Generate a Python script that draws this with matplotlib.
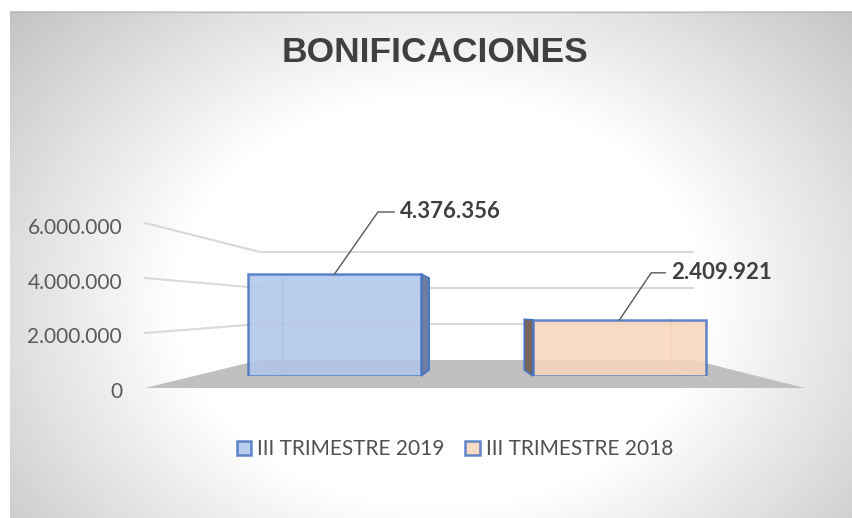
import numpy as np
import matplotlib
matplotlib.use("Agg")
import matplotlib.pyplot as plt
from matplotlib.patches import Polygon

# datos
series = ["III TRIMESTRE 2019", "III TRIMESTRE 2018"]
valores = [4376356, 2409921]
etiquetas = ["4.376.356", "2.409.921"]
ticks = [0, 2000000, 4000000, 6000000]
tick_labels = ["0", "2.000.000", "4.000.000", "6.000.000"]
titulo = "BONIFICACIONES"

W, H = 852, 518
fig = plt.figure(figsize=(W / 100, H / 100), dpi=100)

# fondo con degradado radial (coordenadas en pixeles, y hacia abajo)
bg = fig.add_axes([0, 0, 1, 1], zorder=0)
bg.set_xlim(0, W)
bg.set_ylim(H, 0)
bg.axis("off")
xx, yy = np.meshgrid(np.arange(10, W), np.arange(11, H))
r = np.sqrt(((xx - 440) / 450.0) ** 2 + ((yy - 300) / 350.0) ** 2)
g = 1 - 0.35 * np.clip(r - 0.58, 0, None)
bg.imshow(g, cmap="gray", vmin=0, vmax=1, extent=[10, W, H, 11],
          aspect="auto", interpolation="bilinear")
bg.plot([10, W], [11.5, 11.5], color="#bdbdbd", lw=1)

# rejilla en perspectiva (pared del fondo)
def y_front(v):
    return 388 - v / 6e6 * 165

def y_back(v):
    return 360 - v / 6e6 * 108

for v in ticks[1:]:
    bg.plot([145, 260, 693], [y_front(v), y_back(v), y_back(v)],
            color="#d9d9d9", lw=1.5, zorder=2)

# piso
bg.add_patch(Polygon([[145, 388], [805, 388], [693, 360], [260, 360]],
                     closed=True, fc="#bfbfbf", ec="none", zorder=1))

# eje con las etiquetas
fr = fig.add_axes([145 / W, 1 - 390 / H, 0.001, 164 / H], zorder=1)
fr.set_ylim(0, 6e6)
fr.set_yticks(ticks)
fr.set_yticklabels(tick_labels, fontfamily="Lato", fontsize=15, color="#595959")
fr.tick_params(axis="y", length=0, pad=16.5)
fr.set_xticks([])
for s in fr.spines.values():
    s.set_visible(False)
fr.patch.set_alpha(0)

# barras
ax = fig.add_axes([192 / W, 1 - 376 / H, 570 / W, 151.5 / H], zorder=3)
ax.set_xlim(-0.5, 1.5)
ax.set_ylim(0, 6.5e6)
ax.axis("off")
caras = ["#b0c5e9", "#f8d5bb"]
lados = ["#6f7fa0", "#7a655a"]
barras = []
for i in range(2):
    b = ax.bar(i, valores[i], width=0.607, color=caras[i], alpha=0.85,
               edgecolor="#4472c4", linewidth=1.8, label=series[i])
    barras.append(b)

# caras laterales y aristas traseras de las cajas 3D
fig.canvas.draw()
vx, vy, sx, sy = 475, 315, 0.85, 0.9
for i, b in enumerate(barras):
    p = b.patches[0]
    c = ax.transData.transform([[p.get_x(), 0], [p.get_x() + p.get_width(), p.get_height()]])
    c = bg.transData.inverted().transform(c)
    x0, x1 = c[0, 0], c[1, 0]
    y1, y0 = c[0, 1], c[1, 1]
    bx0, bx1 = vx + (x0 - vx) * sx, vx + (x1 - vx) * sx
    by0, by1 = vy + (y0 - vy) * sy, vy + (y1 - vy) * sy
    if (x0 + x1) / 2 < vx:
        lado = [[x1, y0], [bx1, by0], [bx1, by1], [x1, y1]]
        bg.plot([bx0, bx0], [by0, by1], color="#8fa8d6", lw=1, zorder=3)
        bg.plot([x0, bx0], [y1, by1], color="#c5d3ee", lw=1, zorder=3)
    else:
        lado = [[x0, y0], [bx0, by0], [bx0, by1], [x0, y1]]
        bg.plot([bx1, bx1], [by0, by1], color="#e6bfa3", lw=1, zorder=3)
        bg.plot([x1, bx1], [y1, by1], color="#f3dccb", lw=1, zorder=3)
    bg.add_patch(Polygon(lado, closed=True, fc=lados[i], ec="#4472c4",
                         lw=1.2, zorder=4))

# etiquetas de datos
offs = [(65.5, 62), (51.5, 47)]
angs = [55, 56]
for i in range(2):
    ax.annotate(etiquetas[i], xy=(i, valores[i]), xytext=offs[i],
                textcoords="offset pixels", ha="left", va="center",
                fontfamily="Lato", fontweight="bold", fontsize=16, color="#404040",
                arrowprops=dict(arrowstyle="-", color="#595959", lw=1,
                                shrinkA=2, shrinkB=0,
                                connectionstyle="angle,angleA=0,angleB=%d,rad=0" % angs[i]))

# titulo
fig.text(435.5 / W, 1 - 53 / H, titulo, ha="center", va="center",
         fontfamily="Liberation Sans", fontweight="bold", fontsize=25.5,
         color="#404040")

# leyenda
ax.legend(loc="center", bbox_to_anchor=(455 / W, 1 - 449 / H),
          bbox_transform=fig.transFigure, ncol=2, frameon=False,
          prop={"family": "Lato", "size": 15}, labelcolor="#505050",
          handlelength=0.68, handleheight=0.68, handletextpad=0.3,
          columnspacing=1.0)

fig.savefig("out.png", dpi=100)
